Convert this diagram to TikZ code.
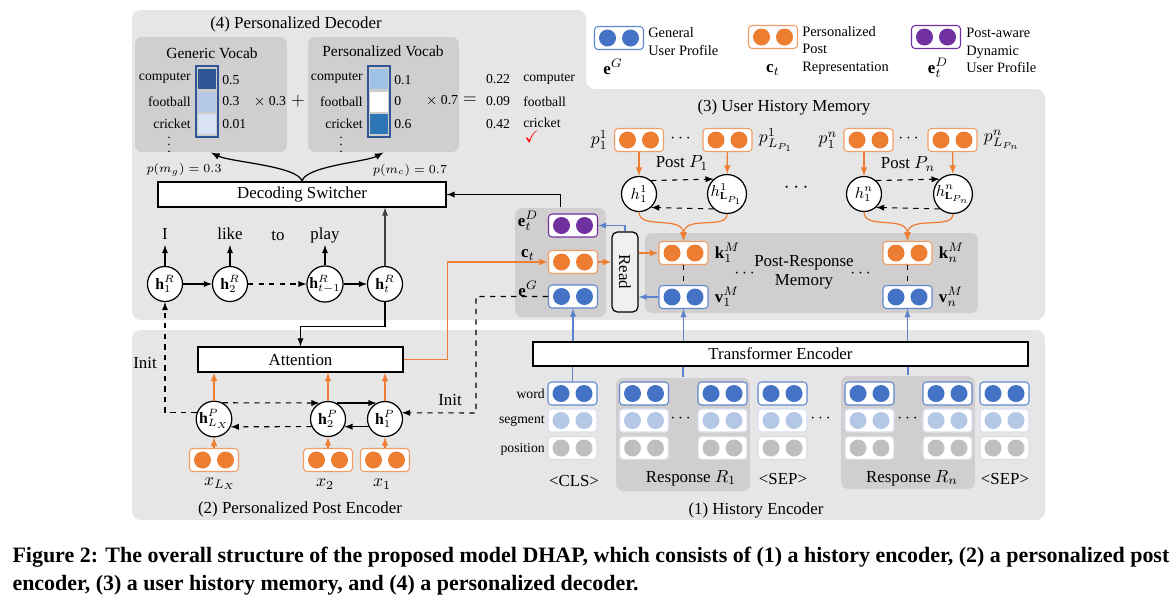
\documentclass[tikz,border=0pt]{standalone}
\usepackage{amsmath,amssymb}
\usepackage{fontspec}
\setmainfont{Liberation Serif}
\usepackage{tikz}
\usetikzlibrary{arrows,%
                positioning}

\definecolor{panelgray}{RGB}{231,230,230}
\definecolor{darkpanel}{RGB}{208,206,206}
\definecolor{vblue}{RGB}{68,114,196}
\definecolor{vorange}{RGB}{237,125,49}
\definecolor{vpurple}{RGB}{112,48,160}
\definecolor{vseg}{RGB}{180,199,231}
\definecolor{vpos}{RGB}{191,191,191}
\definecolor{barblue}{RGB}{47,85,151}
\definecolor{cellA}{RGB}{47,85,151}
\definecolor{cellB}{RGB}{180,199,231}
\definecolor{cellC}{RGB}{218,227,243}
\definecolor{cellD}{RGB}{157,195,230}
\definecolor{cellE}{RGB}{46,117,182}
\definecolor{lineorange}{RGB}{238,125,50}
\definecolor{lineblue}{RGB}{90,130,205}

\tikzset{
  subpanel/.style={fill=darkpanel, rounded corners=4pt, inner sep=0pt},
  block/.style={draw, fill=white, line width=0.7pt, inner sep=0pt},
  rnn/.style={draw, circle, fill=white, minimum size=0.7cm, inner sep=0pt,
              line width=0.7pt, font=\fontsize{9}{10}\selectfont},
  vec/.style 2 args={draw=#2, fill=white, rounded corners=2pt, line width=0.6pt,
              minimum width=0.98cm, minimum height=0.46cm, inner sep=0pt,
              path picture={
                \fill[#1] ([xshift=-0.23cm]path picture bounding box.center) circle (0.17cm);
                \fill[#1] ([xshift=0.23cm]path picture bounding box.center) circle (0.17cm);}},
  bluevec/.style={vec={vblue}{vblue!85}},
  orangevec/.style={vec={vorange}{vorange!75}},
  purplevec/.style={vec={vpurple}{vpurple}},
  segvec/.style={vec={vseg}{vseg!55}},
  posvec/.style={vec={vpos}{vpos!55}},
  small/.style={font=\fontsize{7.8}{9}\selectfont, inner sep=1pt},
  vtitle/.style={font=\fontsize{8.8}{10}\selectfont, inner sep=1pt},
  vbar/.style={draw=barblue, fill=gray!40, line width=0.6pt, minimum width=0.44cm,
               minimum height=1.42cm, inner sep=0pt},
  cell/.style={minimum width=0.36cm, minimum height=0.4cm, inner sep=0pt},
  word/.style={text height=1.5ex, text depth=.25ex, inner sep=2pt},
  oline/.style={draw=lineorange, line width=0.7pt},
  bline/.style={draw=lineblue, line width=0.6pt},
}

\begin{document}
\begin{tikzpicture}[x=0.02cm, y=-0.02cm, >=latex, line width=0.6pt,
                    font=\fontsize{9.6}{11}\selectfont]
\useasboundingbox (0,0) rectangle (1173,603);
% panels
\fill[panelgray, rounded corners=5pt] (132,10) -- (586,10) -- (586,89) -- (1045,89)
     -- (1045,320) -- (132,320) -- cycle;
\fill[panelgray, rounded corners=5pt] (132,330) rectangle (1045,520);

% (4) personalized decoder
\node (dectitle) at (296,24) {(4) Personalized Decoder};
\node[subpanel, minimum width=3.04cm, minimum height=2.3cm] (genbox) at (211,94.5) {};
\node[subpanel, minimum width=3.02cm, minimum height=2.3cm] (perbox) at (383.5,94.5) {};
\node[vtitle] (gentitle) at (212,53) {Generic Vocab};
\node[vtitle] (pertitle) at (383,51) {Personalized Vocab};
\node[vbar] (gbar) at (207,101.5) {};
\node[cell, fill=cellA] (gc1) at (207,79) {};
\node[cell, fill=cellB] (gc2) at (207,101.5) {};
\node[cell, fill=cellC] (gc3) at (207,124) {};
\node[small, anchor=east] (gw1) at (193,78) {computer};
\node[small, anchor=east] (gw2) at (193,101.5) {football};
\node[small, anchor=east] (gw3) at (193,124) {cricket};
\node[small, anchor=west] (gv1) at (220,80) {0.5};
\node[small, anchor=west] (gv2) at (220,101.5) {0.3};
\node[small, anchor=west] (gv3) at (220,124) {0.01};
\node[small] (gdots) at (169,140) {$\vdots$};
\node[vbar] (pbar) at (379,101.5) {};
\node[cell, fill=cellD] (pc1) at (379,79) {};
\node[cell, fill=white] (pc2) at (379,101.5) {};
\node[cell, fill=cellE] (pc3) at (379,124) {};
\node[small, anchor=east] (pw1) at (365,78) {computer};
\node[small, anchor=east] (pw2) at (365,101.5) {football};
\node[small, anchor=east] (pw3) at (365,124) {cricket};
\node[small, anchor=west] (pv1) at (392,80) {0.1};
\node[small, anchor=west] (pv2) at (392,101.5) {0};
\node[small, anchor=west] (pv3) at (392,124) {0.6};
\node[small] (pdots) at (341,140) {$\vdots$};
\node[small] (gmul) at (270,101.5) {$\times$ 0.3};
\node (plus) at (298,101.5) {$+$};
\node[small] (pmul) at (442,100.5) {$\times$ 0.7};
\node (eq) at (470,100.5) {$=$};
\node[small] (r1) at (498,79) {0.22};
\node[small] (r2) at (498,101.5) {0.09};
\node[small] (r3) at (498,124) {0.42};
\node[small, anchor=west] (rw1) at (521,79) {computer};
\node[small, anchor=west] (rw2) at (521,101.5) {football};
\node[small, anchor=west] (rw3) at (521,123) {cricket};
\node[text=red] (check) at (532,137) {$\checkmark$};
\node[small, font=\fontsize{7.3}{9}\selectfont] (pmg) at (184,170) {$p(m_g)=0.3$};
\node[small, font=\fontsize{7.3}{9}\selectfont] (pmc) at (410,170) {$p(m_c)=0.7$};
\node[block, minimum width=5.76cm, minimum height=0.5cm] (switcher) at (302,194.5) {Decoding Switcher};
\draw[->, line width=0.7pt] (switcher.north) .. controls (299,166) and (230,162) .. (genbox.south);
\draw[->, line width=0.7pt] (switcher.north) .. controls (305,166) and (366,162) .. (perbox.south);
% response decoder
\node[rnn] (hR1) at (165,284) {$\mathbf{h}_1^R$};
\node[rnn] (hR2) at (230,284) {$\mathbf{h}_2^R$};
\node[rnn] (hRt1) at (325,284) {$\mathbf{h}_{t-1}^R$};
\node[rnn] (hRt) at (385,284) {$\mathbf{h}_t^R$};
\node[word] (wI) at (165,234) {I};
\node[word] (wlike) at (230,234) {like};
\node[word] (wto) at (278,235) {to};
\node[word] (wplay) at (325,234) {play};
\draw[->] (hR1) -- (wI);
\draw[->] (hR2) -- (wlike);
\draw[->] (hRt1) -- (wplay);
\draw[->] (hR1) -- (hR2);
\draw[->, dashed] (hR2) -- (hRt1);
\draw[->] (hRt1) -- (hRt);
\draw[->, black!75] (hRt) -- (hRt |- switcher.south);

% legend
\node[bluevec] (lgG) at (619,38) {};
\node[orangevec] (lgC) at (773,37) {};
\node[purplevec] (lgD) at (936,37) {};
\node[small, anchor=west, align=left, font=\fontsize{8.2}{10.2}\selectfont] (lgGtext) at (646,42) {General\\User Profile};
\node[small, anchor=west, align=left, font=\fontsize{8.2}{10}\selectfont] (lgCtext) at (800,50.5) {Personalized\\Post\\Representation};
\node[small, anchor=west, align=left, font=\fontsize{8.2}{10}\selectfont] (lgDtext) at (964,50.5) {Post-aware\\Dynamic\\User Profile};
\node (lgGlab) at (613,67) {$\mathbf{e}^G$};
\node (lgClab) at (773,70) {$\mathbf{c}_t$};
\node (lgDlab) at (938,68) {$\mathbf{e}_t^D$};

% (3) user history memory
\node (memtitle) at (784,107) {(3) User History Memory};
\node[orangevec] (p11) at (639,140) {};
\node[orangevec] (p1L) at (727.5,140) {};
\node[orangevec] (pn1) at (868.5,140) {};
\node[orangevec] (pnL) at (952.5,140) {};
\node[left=0pt of p11] (p11lab) {$p_1^1$};
\node[right=0pt of p1L] (p1Llab) {$p_{L_{P_1}}^1$};
\node[left=0pt of pn1] (pn1lab) {$p_1^n$};
\node[right=0pt of pnL] (pnLlab) {$p_{L_{P_n}}^n$};
\node (pdots1) at (682,139) {$\cdots$};
\node (pdots2) at (910,139) {$\cdots$};
\node (post1) at (682,163) {Post $P_1$};
\node (postn) at (908,164) {Post $P_n$};
\node[rnn] (h11) at (639,194) {$h_1^1$};
\node[rnn] (h1L) at (727,194) {$h_{\mathbf{L}_{P_1}}^1$};
\node[rnn] (hn1) at (864,194) {$h_1^n$};
\node[rnn] (hnL) at (953,194) {$h_{\mathbf{L}_{P_n}}^n$};
\node[font=\fontsize{12}{12}\selectfont] (hdots) at (798,188) {$\cdots$};
\draw[oline, ->] (p11) -- (h11);
\draw[oline, ->] (p1L) -- (h1L);
\draw[oline, ->] (pn1.south -| hn1) -- (hn1);
\draw[oline, ->] (pnL) -- (hnL);
\draw[->, dashed] (h11.48) -- (h1L.132);
\draw[->, dashed] (h1L.-132) -- (h11.-48);
\draw[->, dashed] (hn1.48) -- (hnL.132);
\draw[->, dashed] (hnL.-132) -- (hn1.-48);
\node[subpanel, minimum width=6.66cm, minimum height=1.6cm] (mempanel) at (811.5,273) {};
\node[orangevec] (k1) at (683.5,253) {};
\node[bluevec] (v1) at (683.5,297) {};
\node[orangevec] (kn) at (907.5,253) {};
\node[bluevec] (vn) at (907.5,297) {};
\node[right=0pt of k1] (k1lab) {$\mathbf{k}_1^M$};
\node[right=0pt of v1] (v1lab) {$\mathbf{v}_1^M$};
\node[right=0pt of kn] (knlab) {$\mathbf{k}_n^M$};
\node[right=0pt of vn] (vnlab) {$\mathbf{v}_n^M$};
\draw[dashed] (k1) -- (v1);
\draw[dashed] (kn) -- (vn);
\node[align=center, font=\fontsize{9.6}{10.8}\selectfont] (memtext) at (804,272.5) {Post-Response\\Memory};
\node (mdots1) at (746,274) {$\cdots$};
\node (mdots2) at (862,274) {$\cdots$};
\draw[oline, ->] (h11.south) .. controls (639,230) and (683,215) .. (k1.north);
\draw[oline, ->] (h1L.south) .. controls (727,230) and (684,215) .. (k1.north);
\draw[oline, ->] (hn1.south) .. controls (864,230) and (907,215) .. (kn.north);
\draw[oline, ->] (hnL.south) .. controls (953,230) and (908,215) .. (kn.north);

% user profile + read
\node[subpanel, minimum width=1.82cm, minimum height=2.18cm] (upanel) at (560.5,262.5) {};
\node[purplevec] (eD) at (573,225.5) {};
\node[orangevec] (ct) at (573,262) {};
\node[bluevec] (eG) at (573,296.5) {};
\node (eDlab) at (528,221) {$\mathbf{e}_t^D$};
\node (ctlab) at (528,255) {$\mathbf{c}_t$};
\node (eGlab) at (528,289) {$\mathbf{e}^G$};
\node[draw, fill=panelgray!60, rounded corners=3pt, line width=0.7pt, minimum width=0.52cm,
      minimum height=1.6cm, inner sep=0pt] (read) at (625,272) {\rotatebox{-90}{Read}};
\draw[oline, ->] (ct.east) -- (read.west |- ct.east);
\draw[bline, ->] (read.north) |- (eD.east);
\draw[oline, ->] (read.east |- k1.west) -- (k1.west);
\draw[bline, ->] (v1.west) -- (read.east |- v1.west);
\draw[->] (upanel.north) |- (switcher.east);

% (2) personalized post encoder
\node[block, minimum width=4.1cm, minimum height=0.5cm] (attention) at (300.5,359.5) {Attention};
\node[rnn] (hLX) at (214,419) {$\mathbf{h}_{L_X}^P$};
\node[rnn] (hP2) at (328,419) {$\mathbf{h}_2^P$};
\node[rnn] (hP1) at (385,419) {$\mathbf{h}_1^P$};
\node[orangevec] (xLX) at (214,460) {};
\node[orangevec] (x2) at (328,460) {};
\node[orangevec] (x1) at (385,460) {};
\node (xLXlab) at (220,484) {$x_{L_X}$};
\node (x2lab) at (325,484) {$x_2$};
\node (x1lab) at (382,484) {$x_1$};
\draw[oline, ->] (xLX) -- (hLX);
\draw[oline, ->] (x2) -- (hP2);
\draw[oline, ->] (x1) -- (hP1);
\draw[oline, ->] (hLX) -- (hLX |- attention.south);
\draw[oline, ->] (hP2) -- (hP2 |- attention.south);
\draw[oline, ->] (hP1) -- (hP1 |- attention.south);
\draw[->, dashed] (hLX.62) -- (hP2.118);
\draw[->] (hP2.62) -- (hP1.118);
\draw[->] (hP1.-155) -- (hP2.-25);
\draw[->, dashed] (hP2.-155) -- (hLX.-25);
\draw[->] (hRt.south) -- ++(0,24) -| (attention.north);
\draw[oline, ->] (attention.east) -- ++(44,0) |- (ct.west);
\coordinate (initR) at (476,413);
\draw[->, dashed] (eG.west) -| (initR) -- (hP1.20);
\draw[->, dashed] (hLX.160) -| (hR1.south);
\node (initL) at (145,363) {Init};
\node (initRlab) at (450,400) {Init};
\node (penctitle) at (300,509) {(2) Personalized Post Encoder};

% (1) history encoder
\node[block, minimum width=9.9cm, minimum height=0.48cm] (te) at (780.5,354) {Transformer Encoder};
\node[subpanel, minimum width=2.68cm, minimum height=2.26cm] (resp1) at (683,434.5) {};
\node[subpanel, minimum width=2.68cm, minimum height=2.26cm] (respn) at (908,432.5) {};
\node[bluevec] (wcls) at (572.5,393.5) {};
\node[segvec] (scls) at (572.5,420.5) {};
\node[posvec] (ocls) at (572.5,448) {};
\node[bluevec] (wr1a) at (644,393.5) {};
\node[segvec] (sr1a) at (644,420.5) {};
\node[posvec] (or1a) at (644,448) {};
\node[bluevec] (wr1b) at (722.5,393.5) {};
\node[segvec] (sr1b) at (722.5,420.5) {};
\node[posvec] (or1b) at (722.5,448) {};
\node[bluevec] (wsep1) at (782.5,393.5) {};
\node[segvec] (ssep1) at (782.5,420.5) {};
\node[posvec] (osep1) at (782.5,448) {};
\node[bluevec] (wrna) at (869.5,393.5) {};
\node[segvec] (srna) at (869.5,420.5) {};
\node[posvec] (orna) at (869.5,448) {};
\node[bluevec] (wrnb) at (947.5,393.5) {};
\node[segvec] (srnb) at (947.5,420.5) {};
\node[posvec] (ornb) at (947.5,448) {};
\node[bluevec] (wsep2) at (1004.5,393.5) {};
\node[segvec] (ssep2) at (1004.5,420.5) {};
\node[posvec] (osep2) at (1004.5,448) {};
\node[small, anchor=east] (wordlab) at (547,394) {word};
\node[small, anchor=east] (seglab) at (547,421) {segment};
\node[small, anchor=east] (poslab) at (547,449) {position};
\node (rdots1) at (682,419) {$\cdots$};
\node (rdots2) at (822,419) {$\cdots$};
\node (rdots3) at (909,419) {$\cdots$};
\node (clslab) at (574,481) {<CLS>};
\node (r1lab) at (691,478) {Response $R_1$};
\node (sep1lab) at (783,479) {<SEP>};
\node (rnlab) at (912,478) {Response $R_n$};
\node (sep2lab) at (1005,479) {<SEP>};
\node (henctitle) at (756,510) {(1) History Encoder};
\draw[bline] (wcls) -- (wcls |- te.south);
\draw[bline] (resp1.north) -- (resp1.north |- te.south);
\draw[bline] (respn.north) -- (respn.north |- te.south);
\draw[bline, ->] (te.north -| eG) -- (eG);
\draw[bline, ->] (te.north -| v1) -- (v1);
\draw[bline, ->] (te.north -| vn) -- (vn);

% caption
\node[anchor=west, align=left, inner sep=0pt,
      font=\bfseries\fontsize{12.5}{15.6}\selectfont] (caption) at (12,571)
  {Figure 2: The overall structure of the proposed model DHAP, which consists of (1) a history encoder, (2) a personalized post\\
   encoder, (3) a user history memory, and (4) a personalized decoder.};
\end{tikzpicture}
\end{document}
